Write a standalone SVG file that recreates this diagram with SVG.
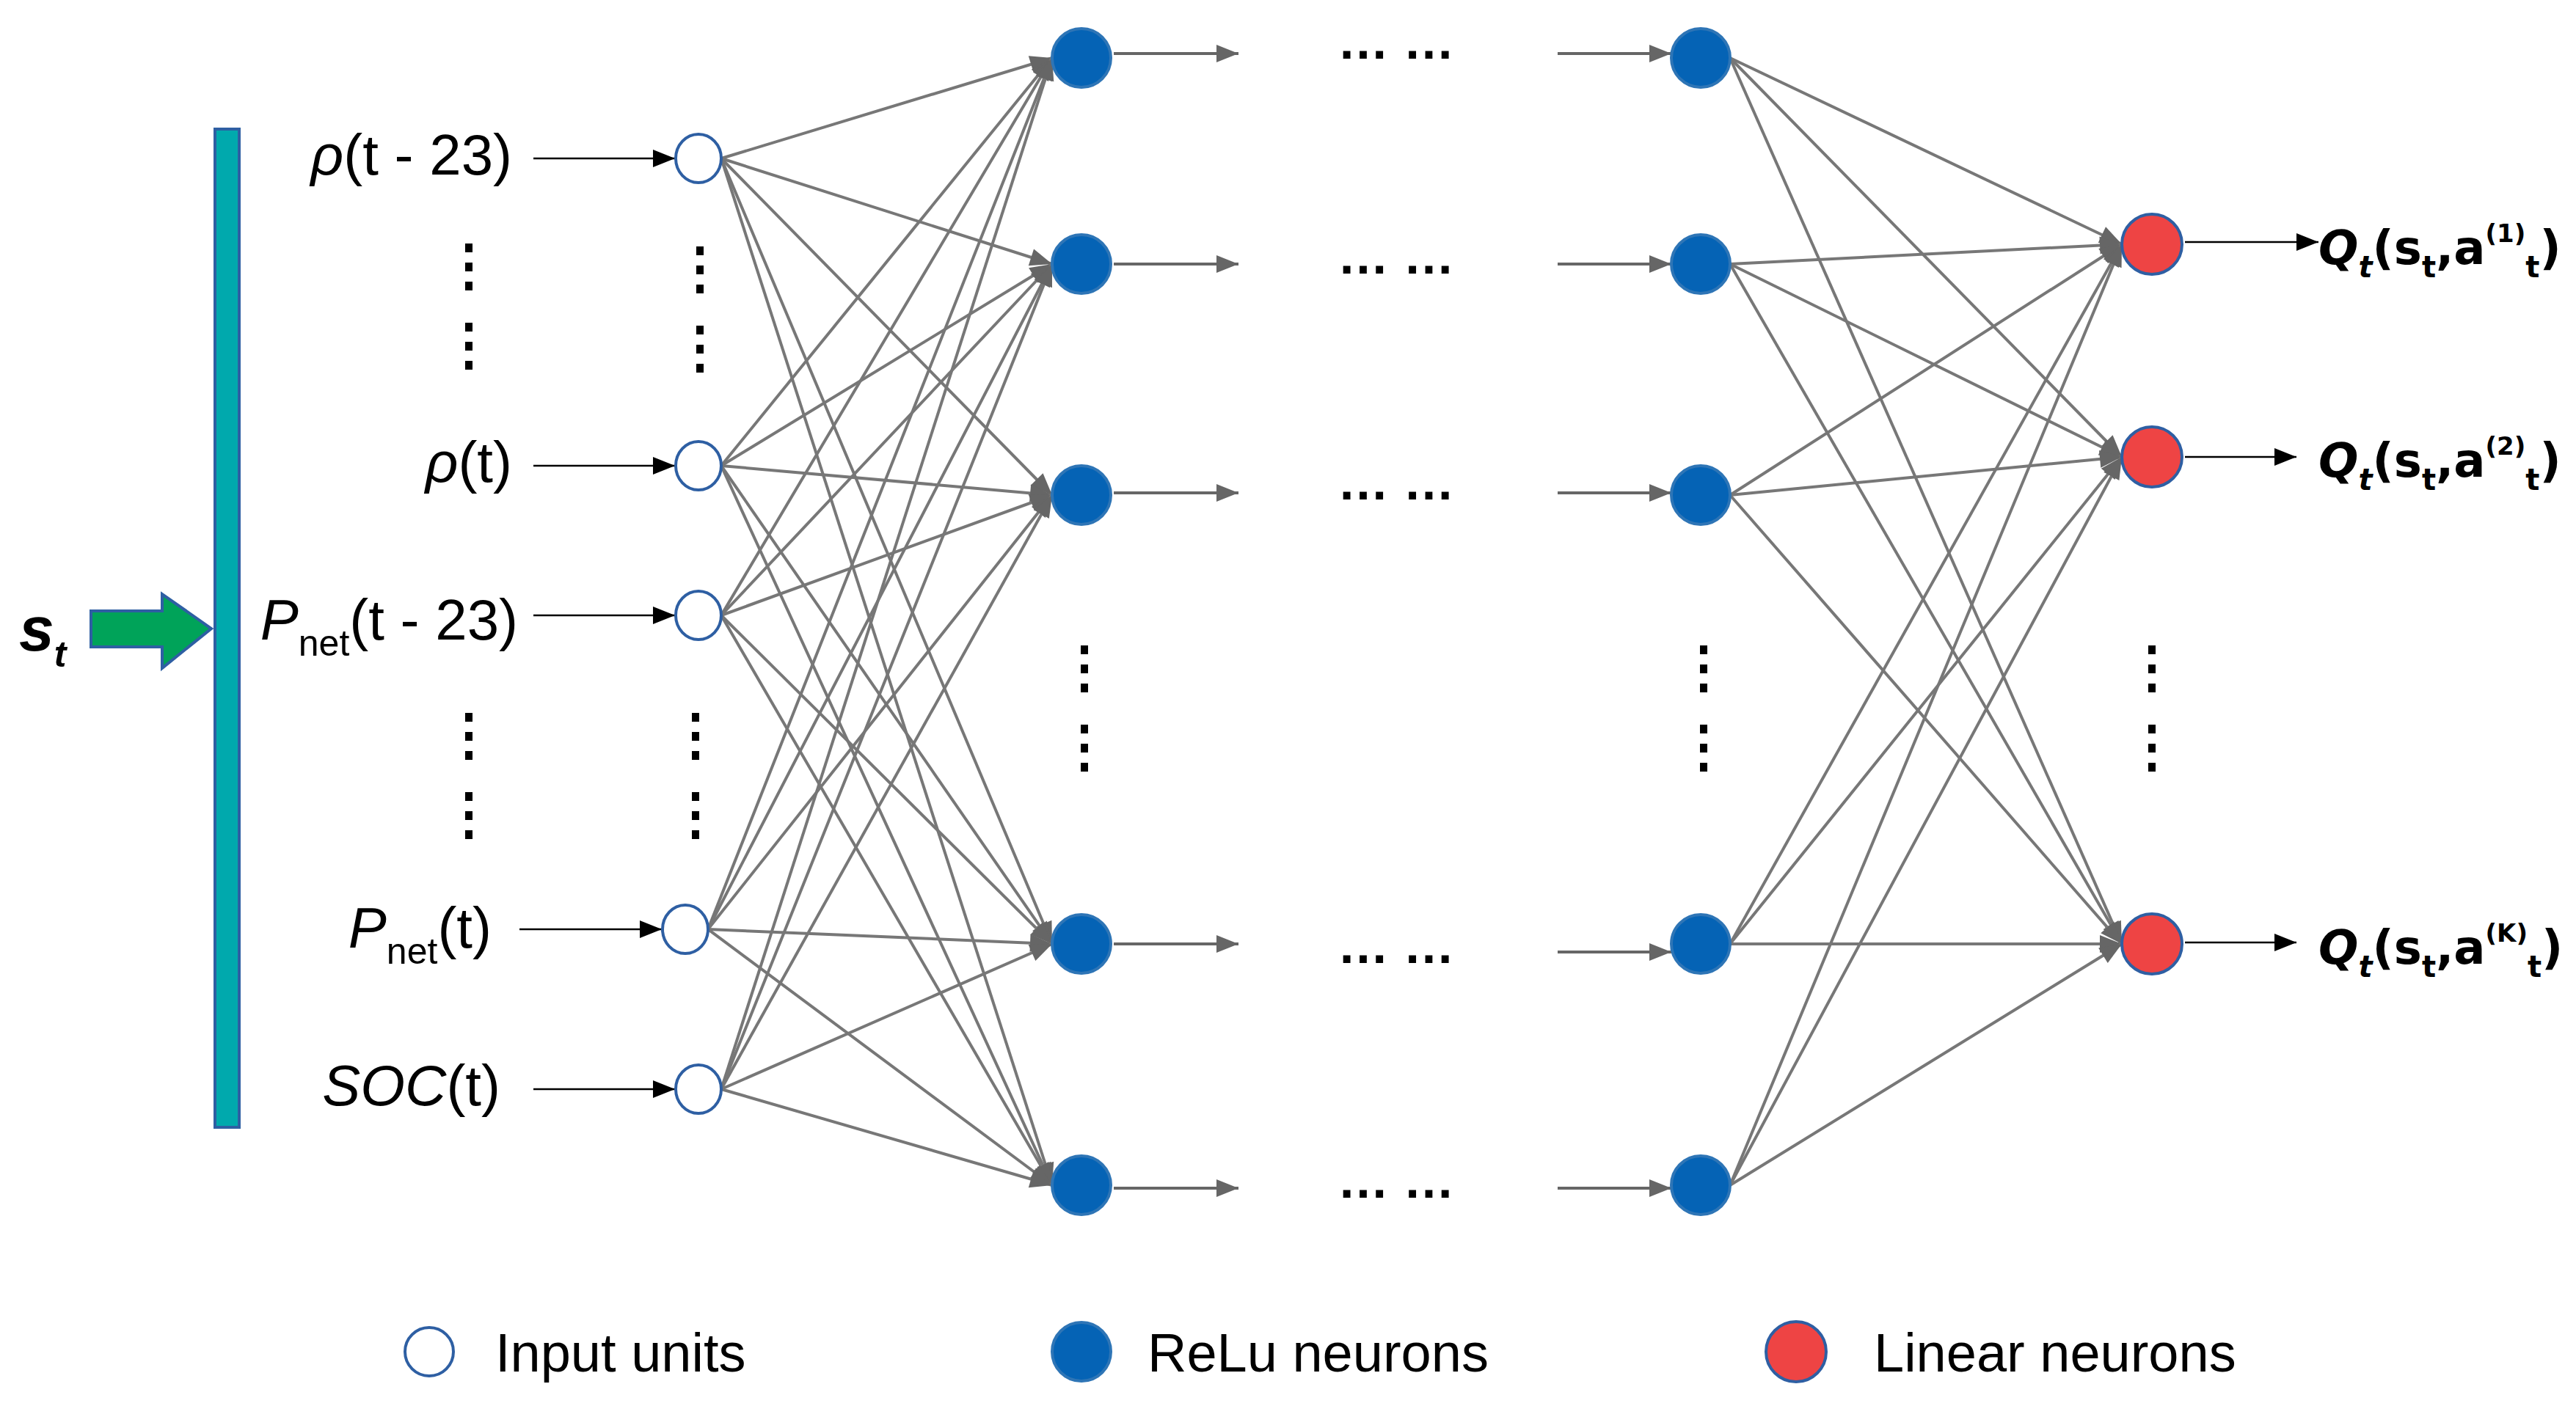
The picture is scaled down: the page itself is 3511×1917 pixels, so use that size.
<svg xmlns="http://www.w3.org/2000/svg" width="3511" height="1917" viewBox="0 0 3511 1917">
<style>
text{font-family:"Liberation Sans",Arial,sans-serif;fill:#000}
.lbl{font-size:78px}
.q{font-family:"DejaVu Sans","Liberation Sans",sans-serif;font-size:64px;font-weight:bold}
.leg{font-size:74px}
.in{fill:#fff;stroke:#2E5FA3;stroke-width:4}
.relu{fill:#0563B5;stroke:#2E75B6;stroke-width:4}
.lin{fill:#EE4444;stroke:#2E5FA3;stroke-width:4}
.c{stroke:#777;stroke-width:4;fill:none;marker-end:url(#g)}
.a{stroke:#000;stroke-width:2.5;fill:none;marker-end:url(#k)}
.a2{stroke:#666;stroke-width:4;fill:none;marker-end:url(#g)}
</style>
<defs>
<marker id="g" markerWidth="1" markerHeight="1" refX="0" refY="0" orient="auto" markerUnits="userSpaceOnUse" style="overflow:visible"><path d="M-30,-12 L0,0 L-30,12 Z" fill="#666"/></marker>
<marker id="k" markerWidth="1" markerHeight="1" refX="0" refY="0" orient="auto" markerUnits="userSpaceOnUse" style="overflow:visible"><path d="M-30,-12 L0,0 L-30,12 Z" fill="#000"/></marker>
<g id="dots">
<rect x="-5" y="0" width="10" height="12"/><rect x="-5" y="26" width="10" height="12"/><rect x="-5" y="52" width="10" height="12"/>
<rect x="-5" y="108" width="10" height="12"/><rect x="-5" y="134" width="10" height="12"/><rect x="-5" y="160" width="10" height="12"/>
</g>
</defs>
<rect width="3511" height="1917" fill="#fff"/>

<g id="connectors">
<g>
<line class="c" x1="983" y1="216" x2="1434" y2="79"/><line class="c" x1="983" y1="216" x2="1434" y2="360"/><line class="c" x1="983" y1="216" x2="1434" y2="675"/><line class="c" x1="983" y1="216" x2="1434" y2="1287"/><line class="c" x1="983" y1="216" x2="1434" y2="1616"/>
<line class="c" x1="983" y1="635" x2="1434" y2="79"/><line class="c" x1="983" y1="635" x2="1434" y2="360"/><line class="c" x1="983" y1="635" x2="1434" y2="675"/><line class="c" x1="983" y1="635" x2="1434" y2="1287"/><line class="c" x1="983" y1="635" x2="1434" y2="1616"/>
<line class="c" x1="983" y1="839" x2="1434" y2="79"/><line class="c" x1="983" y1="839" x2="1434" y2="360"/><line class="c" x1="983" y1="839" x2="1434" y2="675"/><line class="c" x1="983" y1="839" x2="1434" y2="1287"/><line class="c" x1="983" y1="839" x2="1434" y2="1616"/>
<line class="c" x1="965" y1="1267" x2="1434" y2="79"/><line class="c" x1="965" y1="1267" x2="1434" y2="360"/><line class="c" x1="965" y1="1267" x2="1434" y2="675"/><line class="c" x1="965" y1="1267" x2="1434" y2="1287"/><line class="c" x1="965" y1="1267" x2="1434" y2="1616"/>
<line class="c" x1="983" y1="1485" x2="1434" y2="79"/><line class="c" x1="983" y1="1485" x2="1434" y2="360"/><line class="c" x1="983" y1="1485" x2="1434" y2="675"/><line class="c" x1="983" y1="1485" x2="1434" y2="1287"/><line class="c" x1="983" y1="1485" x2="1434" y2="1616"/>
</g>
<g>
<line class="c" x1="2358" y1="79" x2="2892" y2="333"/><line class="c" x1="2358" y1="79" x2="2892" y2="623"/><line class="c" x1="2358" y1="79" x2="2892" y2="1287"/>
<line class="c" x1="2358" y1="360" x2="2892" y2="333"/><line class="c" x1="2358" y1="360" x2="2892" y2="623"/><line class="c" x1="2358" y1="360" x2="2892" y2="1287"/>
<line class="c" x1="2358" y1="675" x2="2892" y2="333"/><line class="c" x1="2358" y1="675" x2="2892" y2="623"/><line class="c" x1="2358" y1="675" x2="2892" y2="1287"/>
<line class="c" x1="2358" y1="1287" x2="2892" y2="333"/><line class="c" x1="2358" y1="1287" x2="2892" y2="623"/><line class="c" x1="2358" y1="1287" x2="2892" y2="1287"/>
<line class="c" x1="2358" y1="1616" x2="2892" y2="333"/><line class="c" x1="2358" y1="1616" x2="2892" y2="623"/><line class="c" x1="2358" y1="1616" x2="2892" y2="1287"/>
</g>
<line class="a" x1="727" y1="216" x2="920" y2="216"/>
<line class="a" x1="727" y1="635" x2="920" y2="635"/>
<line class="a" x1="727" y1="839" x2="920" y2="839"/>
<line class="a" x1="708" y1="1267" x2="902" y2="1267"/>
<line class="a" x1="727" y1="1485" x2="920" y2="1485"/>
<line class="a2" x1="1518" y1="73" x2="1688" y2="73"/>
<line class="a2" x1="1518" y1="360" x2="1688" y2="360"/>
<line class="a2" x1="1518" y1="672" x2="1688" y2="672"/>
<line class="a2" x1="1518" y1="1287" x2="1688" y2="1287"/>
<line class="a2" x1="1518" y1="1620" x2="1688" y2="1620"/>
<line class="a2" x1="2123" y1="73" x2="2278" y2="73"/>
<line class="a2" x1="2123" y1="360" x2="2278" y2="360"/>
<line class="a2" x1="2123" y1="672" x2="2278" y2="672"/>
<line class="a2" x1="2123" y1="1298" x2="2278" y2="1298"/>
<line class="a2" x1="2123" y1="1620" x2="2278" y2="1620"/>
<line class="a" x1="2978" y1="330" x2="3160" y2="330"/>
<line class="a" x1="2978" y1="623" x2="3130" y2="623"/>
<line class="a" x1="2978" y1="1285" x2="3130" y2="1285"/>
</g>

<g id="state">
<rect x="293" y="176" width="33" height="1361" fill="#00A9AD" stroke="#2E5FA3" stroke-width="4"/>
<path d="M124,833 L221,833 L221,810 L288,857 L221,911 L221,882 L124,882 Z" fill="#00A359" stroke="#2E5FA3" stroke-width="4"/>
<text x="26" y="887" style="font-size:86px;font-weight:bold;font-style:italic">s<tspan dy="22" style="font-size:50px">t</tspan></text>
</g>

<g id="labels">
<text class="lbl" x="698" y="238" text-anchor="end"><tspan font-style="italic">ρ</tspan>(t - 23)</text>
<text class="lbl" x="698" y="657" text-anchor="end"><tspan font-style="italic">ρ</tspan>(t)</text>
<text class="lbl" x="706" y="872" text-anchor="end"><tspan font-style="italic">P</tspan><tspan dy="22" style="font-size:50px">net</tspan><tspan dy="-22">(t - 23)</tspan></text>
<text class="lbl" x="670" y="1292" text-anchor="end"><tspan font-style="italic">P</tspan><tspan dy="22" style="font-size:50px">net</tspan><tspan dy="-22">(t)</tspan></text>
<text class="lbl" x="682" y="1507" text-anchor="end"><tspan font-style="italic">SOC</tspan>(t)</text>
<use href="#dots" x="639" y="332"/>
<use href="#dots" x="954" y="336"/>
<use href="#dots" x="639" y="972"/>
<use href="#dots" x="948" y="972"/>
</g>

<g id="input-nodes">
<ellipse class="in" cx="952" cy="216" rx="31" ry="33"/>
<ellipse class="in" cx="952" cy="635" rx="31" ry="33"/>
<ellipse class="in" cx="952" cy="839" rx="31" ry="33"/>
<ellipse class="in" cx="934" cy="1267" rx="31" ry="33"/>
<ellipse class="in" cx="952" cy="1485" rx="31" ry="33"/>
</g>

<g id="hidden1">
<circle class="relu" cx="1474" cy="79" r="40"/>
<circle class="relu" cx="1474" cy="360" r="40"/>
<circle class="relu" cx="1474" cy="675" r="40"/>
<circle class="relu" cx="1474" cy="1287" r="40"/>
<circle class="relu" cx="1474" cy="1616" r="40"/>
<use href="#dots" x="1478" y="880"/>
</g>

<g id="ellipses">
<text x="1823" y="80" style="font-size:70px;font-weight:bold">… …</text>
<text x="1823" y="373" style="font-size:70px;font-weight:bold">… …</text>
<text x="1823" y="681" style="font-size:70px;font-weight:bold">… …</text>
<text x="1823" y="1313" style="font-size:70px;font-weight:bold">… …</text>
<text x="1823" y="1633" style="font-size:70px;font-weight:bold">… …</text>
</g>

<g id="hidden2">
<circle class="relu" cx="2318" cy="79" r="40"/>
<circle class="relu" cx="2318" cy="360" r="40"/>
<circle class="relu" cx="2318" cy="675" r="40"/>
<circle class="relu" cx="2318" cy="1287" r="40"/>
<circle class="relu" cx="2318" cy="1616" r="40"/>
<use href="#dots" x="2322" y="880"/>
</g>

<g id="outputs">
<circle class="lin" cx="2933" cy="333" r="41"/>
<circle class="lin" cx="2933" cy="623" r="41"/>
<circle class="lin" cx="2933" cy="1287" r="41"/>
<use href="#dots" x="2933" y="880"/>
<text class="q" x="3160" y="360"><tspan font-style="italic">Q</tspan><tspan dy="18" style="font-size:40px;font-style:italic">t</tspan><tspan dy="-18">(s</tspan><tspan dy="18" style="font-size:40px">t</tspan><tspan dy="-18">,a</tspan><tspan dy="-30" style="font-size:34px">(1)</tspan><tspan dy="48" style="font-size:40px">t</tspan><tspan dy="-18">)</tspan></text>
<text class="q" x="3160" y="650"><tspan font-style="italic">Q</tspan><tspan dy="18" style="font-size:40px;font-style:italic">t</tspan><tspan dy="-18">(s</tspan><tspan dy="18" style="font-size:40px">t</tspan><tspan dy="-18">,a</tspan><tspan dy="-30" style="font-size:34px">(2)</tspan><tspan dy="48" style="font-size:40px">t</tspan><tspan dy="-18">)</tspan></text>
<text class="q" x="3160" y="1314"><tspan font-style="italic">Q</tspan><tspan dy="18" style="font-size:40px;font-style:italic">t</tspan><tspan dy="-18">(s</tspan><tspan dy="18" style="font-size:40px">t</tspan><tspan dy="-18">,a</tspan><tspan dy="-30" style="font-size:34px">(K)</tspan><tspan dy="48" style="font-size:40px">t</tspan><tspan dy="-18">)</tspan></text>
</g>

<g id="legend">
<circle class="in" cx="585" cy="1843" r="33"/>
<text class="leg" x="675" y="1870">Input units</text>
<circle class="relu" cx="1474" cy="1843" r="40"/>
<text class="leg" x="1564" y="1870">ReLu neurons</text>
<circle class="lin" cx="2448" cy="1843" r="41"/>
<text class="leg" x="2554" y="1870">Linear neurons</text>
</g>
</svg>
